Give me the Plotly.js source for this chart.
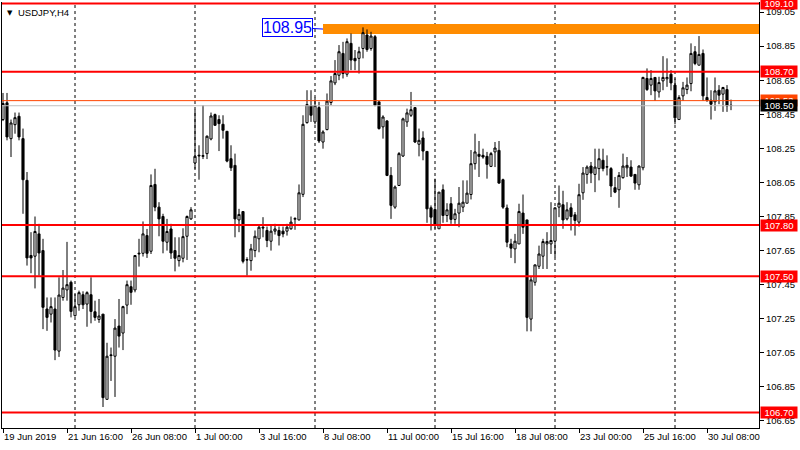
<!DOCTYPE html>
<html>
<head>
<meta charset="utf-8">
<script src="https://cdn.plot.ly/plotly-3.0.1.min.js"></script>
<style>html,body{margin:0;padding:0;background:#fff;}#chart{width:800px;height:450px;}</style>
</head>
<body>
<div id="chart"></div>
<script>
// USDJPY H4 bars, 19 Jun 2019 00:00 .. 31 Jul 2019 08:00 (bar index 0..182)
const open = [108.419,108.517,108.307,108.389,108.438,108.307,108.062,107.621,107.617,107.748,107.650,107.307,107.277,107.307,107.060,107.375,107.419,107.464,107.268,107.332,107.391,107.336,107.391,107.291,107.246,107.277,106.777,107.038,107.030,107.207,107.166,107.330,107.438,107.419,107.630,107.634,107.738,107.646,108.038,107.905,107.850,107.699,107.777,107.650,107.591,107.605,107.734,107.836,108.164,108.205,108.203,108.219,108.305,108.448,108.419,108.391,108.350,108.189,108.150,107.830,107.879,107.597,107.591,107.650,107.719,107.787,107.768,107.705,107.764,107.768,107.764,107.764,107.778,107.834,107.830,107.980,108.401,108.501,108.405,108.489,108.287,108.360,108.519,108.634,108.679,108.807,108.685,108.866,108.778,108.778,108.836,108.915,108.836,108.905,108.523,108.376,108.411,108.091,107.905,108.032,108.205,108.405,108.444,108.489,108.274,108.311,108.232,107.901,107.891,107.778,108.007,107.856,107.925,107.833,107.870,107.905,107.928,107.979,108.160,108.215,108.209,108.203,108.144,108.229,108.238,108.066,107.900,107.689,107.660,107.689,107.870,107.830,107.248,107.464,107.558,107.617,107.689,107.689,107.705,107.905,107.919,107.836,107.901,107.860,107.817,107.989,108.097,108.146,108.097,108.131,108.180,108.140,108.131,108.019,108.007,108.078,108.136,108.140,108.097,108.036,108.136,108.660,108.621,108.666,108.581,108.646,108.658,108.685,108.621,108.419,108.558,108.595,108.630,108.817,108.738,108.807,108.548,108.532,108.523,108.591,108.568,108.595,108.503];
const high = [108.575,108.575,108.419,108.460,108.460,108.366,108.111,107.758,107.850,107.807,107.719,107.375,107.375,107.375,107.493,107.536,107.701,107.474,107.395,107.415,107.411,107.411,107.493,107.356,107.366,107.277,107.109,107.081,107.248,107.366,107.326,107.474,107.474,107.621,107.719,107.821,107.777,108.097,108.130,107.934,107.866,107.836,107.807,107.728,107.728,107.781,107.856,107.905,108.477,108.268,108.503,108.326,108.460,108.454,108.444,108.444,108.350,108.268,108.219,107.895,107.879,107.611,107.689,107.768,107.800,107.846,107.791,107.803,107.807,107.791,107.791,107.807,107.850,107.846,108.038,108.444,108.591,108.591,108.548,108.523,108.356,108.572,108.674,108.768,108.856,108.875,108.895,108.924,108.827,108.846,108.960,108.948,108.934,108.915,108.523,108.444,108.415,108.140,108.032,108.228,108.430,108.483,108.581,108.489,108.366,108.350,108.232,107.915,108.072,107.993,108.038,107.928,107.964,107.895,108.023,108.062,108.062,108.240,108.336,108.293,108.248,108.229,108.229,108.287,108.293,108.072,107.920,107.719,107.748,107.925,107.979,107.830,107.497,107.568,107.679,107.719,107.758,107.934,107.901,108.032,108.001,107.934,107.928,107.876,108.042,108.140,108.150,108.170,108.248,108.248,108.248,108.209,108.140,108.082,108.111,108.219,108.199,108.180,108.097,108.150,108.670,108.719,108.709,108.666,108.670,108.791,108.778,108.709,108.660,108.562,108.640,108.666,108.866,108.850,108.909,108.830,108.666,108.591,108.666,108.621,108.611,108.621,108.536];
const low = [108.410,108.297,108.199,108.336,108.297,107.866,107.562,107.517,107.428,107.503,107.189,107.179,107.228,107.007,107.026,107.356,107.356,107.258,107.262,107.297,107.307,107.203,107.223,107.238,107.226,106.732,106.777,106.885,106.791,107.081,107.066,107.277,107.332,107.405,107.556,107.615,107.607,107.630,107.881,107.734,107.634,107.650,107.601,107.528,107.556,107.581,107.595,107.830,108.130,108.066,108.187,108.187,108.297,108.385,108.234,108.307,108.168,108.117,107.728,107.758,107.575,107.503,107.532,107.611,107.640,107.728,107.670,107.650,107.744,107.680,107.728,107.738,107.772,107.772,107.827,107.964,108.395,108.405,108.391,108.281,108.248,108.356,108.503,108.621,108.650,108.660,108.670,108.709,108.709,108.689,108.778,108.817,108.823,108.497,108.360,108.307,108.087,107.836,107.895,108.032,108.199,108.376,108.434,108.281,108.203,108.180,107.813,107.768,107.778,107.778,107.813,107.817,107.807,107.807,107.787,107.876,107.928,107.950,108.125,108.082,108.189,108.072,108.140,108.140,108.042,107.895,107.670,107.607,107.576,107.689,107.748,107.176,107.176,107.444,107.542,107.542,107.542,107.630,107.611,107.846,107.778,107.827,107.768,107.738,107.791,107.948,108.042,108.046,107.993,108.062,108.115,108.091,107.964,107.987,107.901,108.072,108.082,108.082,108.007,108.007,108.121,108.587,108.562,108.528,108.548,108.591,108.611,108.591,108.391,108.419,108.528,108.568,108.585,108.738,108.738,108.528,108.523,108.419,108.470,108.509,108.464,108.464,108.474];
const close = [108.513,108.317,108.399,108.430,108.317,108.066,107.607,107.607,107.762,107.636,107.317,107.258,107.321,107.066,107.389,107.430,107.450,107.293,107.321,107.403,107.332,107.403,107.293,107.258,107.266,106.787,107.030,107.034,107.195,107.148,107.321,107.450,107.405,107.621,107.634,107.748,107.634,108.032,107.905,107.836,107.705,107.762,107.636,107.605,107.621,107.732,107.850,107.889,108.203,108.209,108.207,108.321,108.440,108.385,108.395,108.356,108.175,108.136,107.836,107.862,107.587,107.595,107.660,107.734,107.787,107.783,107.709,107.764,107.777,107.738,107.748,107.787,107.817,107.838,107.989,108.391,108.507,108.444,108.501,108.293,108.346,108.527,108.646,108.689,108.817,108.689,108.876,108.768,108.764,108.817,108.929,108.830,108.909,108.503,108.366,108.434,108.091,107.915,108.023,108.219,108.423,108.458,108.477,108.287,108.297,108.234,107.895,107.846,107.797,107.993,107.856,107.889,107.833,107.866,107.928,107.934,107.987,108.160,108.229,108.203,108.199,108.156,108.219,108.252,108.046,107.905,107.699,107.664,107.705,107.879,107.787,107.258,107.478,107.566,107.630,107.703,107.703,107.709,107.901,107.928,107.830,107.889,107.850,107.827,107.978,108.105,108.140,108.105,108.140,108.189,108.131,108.142,108.029,107.993,108.091,108.146,108.150,108.087,108.046,108.146,108.666,108.595,108.660,108.587,108.636,108.666,108.666,108.634,108.429,108.548,108.605,108.621,108.807,108.748,108.801,108.558,108.532,108.509,108.587,108.562,108.607,108.499,108.501];

// time axis labels (bar index -> label)
const xTickIdx = [0,16,32,48,64,80,96,112,128,144,160,176];
const xTickText = ['19 Jun 2019','21 Jun 16:00','26 Jun 08:00','1 Jul 00:00','3 Jul 16:00','8 Jul 08:00','11 Jul 00:00','15 Jul 16:00','18 Jul 08:00','23 Jul 00:00','25 Jul 16:00','30 Jul 08:00'];
const weekStartIdx = [18,48,78,108,138,168];
const yTicks = [106.65,106.85,107.05,107.25,107.45,107.65,107.85,108.05,108.25,108.45,108.65,108.85,109.05];

// horizontal levels
const redLevels = [109.10,108.70,107.80,107.50,106.70];
const askLevel = 108.53;
const bidLevel = 108.50;
const bandLevel = 108.95;
const bandStartIdx = 80;
const xRange = [-0.25, 189.0];
const yRange = [106.6088, 109.1088];

const idx = open.map((_, i) => i);
const FONT = 'Liberation Sans, Arial, sans-serif';

const trace = {
  type: 'candlestick',
  x: idx, open: open, high: high, low: low, close: close,
  increasing: {line: {color: '#000000', width: 1}, fillcolor: '#FFFFFF'},
  decreasing: {line: {color: '#000000', width: 1}, fillcolor: '#000000'},
  whiskerwidth: 0,
  hoverinfo: 'none',
  showlegend: false
};

const shapes = [];
weekStartIdx.forEach(i => shapes.push({type: 'line', xref: 'x', yref: 'paper', x0: i, x1: i, y0: 0, y1: 1,
  line: {color: '#000000', width: 1, dash: '3px,3px'}, layer: 'below'}));
shapes.push({type: 'line', xref: 'x', yref: 'y', x0: bandStartIdx, x1: xRange[1], y0: bandLevel, y1: bandLevel,
  line: {color: '#FF8C00', width: 10}, layer: 'below'});
shapes.push({type: 'line', xref: 'paper', yref: 'y', x0: 0, x1: 1, y0: bidLevel, y1: bidLevel,
  line: {color: '#C0C0C0', width: 1}, layer: 'above'});
shapes.push({type: 'line', xref: 'paper', yref: 'y', x0: 0, x1: 1, y0: askLevel, y1: askLevel,
  line: {color: '#FF4500', width: 1}, layer: 'above'});
redLevels.forEach(v => shapes.push({type: 'line', xref: 'paper', yref: 'y', x0: 0, x1: 1, y0: v, y1: v,
  line: {color: '#FF0000', width: 2}, layer: 'above'}));

const annotations = [];
function priceTag(v, bg) {
  return {xref: 'paper', yref: 'y', x: 1, y: v, xanchor: 'left', yanchor: 'middle', xshift: 1,
    text: v.toFixed(2), showarrow: false, bgcolor: bg, borderpad: 0, width: 36, height: 11, align: 'center',
    font: {family: FONT, size: 9.5, color: '#FFFFFF'}};
}
redLevels.forEach(v => annotations.push(priceTag(v, '#FF0000')));
annotations.push(priceTag(askLevel, '#FF4500'));
annotations.push(priceTag(bidLevel, '#000000'));
annotations.push({xref: 'x', yref: 'y', x: bandStartIdx, y: bandLevel, ax: -36, ay: -2,
  text: bandLevel.toFixed(2), showarrow: true, arrowhead: 0, arrowwidth: 1, arrowcolor: '#0000FF',
  bgcolor: '#FFFFFF', bordercolor: '#0000FF', borderwidth: 1, borderpad: 0,
  font: {family: FONT, size: 16, color: '#0000FF'}});
annotations.push({xref: 'paper', yref: 'paper', x: 0, y: 1, xanchor: 'left', yanchor: 'top', xshift: 3, yshift: -5,
  text: '▼', showarrow: false, font: {family: 'DejaVu Sans', size: 7, color: '#000000'}});
annotations.push({xref: 'paper', yref: 'paper', x: 0, y: 1, xanchor: 'left', yanchor: 'top', xshift: 14, yshift: -3,
  text: 'USDJPY,H4', showarrow: false, font: {family: FONT, size: 9.5, color: '#000000'}});

const layout = {
  width: 800, height: 450,
  margin: {l: 2, r: 41, t: 2, b: 22, pad: 0},
  paper_bgcolor: '#FFFFFF', plot_bgcolor: '#FFFFFF',
  showlegend: false,
  boxgap: 0.25,
  xaxis: {
    range: xRange, tickmode: 'array', tickvals: xTickIdx, ticktext: xTickText,
    ticks: 'outside', ticklen: 4, tickcolor: '#000000', ticklabelposition: 'outside right',
    showline: true, linecolor: '#000000', linewidth: 1, showgrid: false, zeroline: false,
    rangeslider: {visible: false}, fixedrange: true,
    tickfont: {family: FONT, size: 9.5, color: '#000000'}
  },
  yaxis: {
    side: 'right', range: yRange, tickmode: 'array', tickvals: yTicks, ticktext: yTicks.map(v => v.toFixed(2)),
    ticks: 'outside', ticklen: 4, tickcolor: '#000000',
    showline: true, mirror: true, linecolor: '#000000', linewidth: 1, showgrid: false, zeroline: false,
    fixedrange: true,
    tickfont: {family: FONT, size: 9.5, color: '#000000'}
  },
  shapes: shapes,
  annotations: annotations
};

Plotly.newPlot('chart', [trace], layout, {displayModeBar: false, staticPlot: true});
</script>
</body>
</html>
